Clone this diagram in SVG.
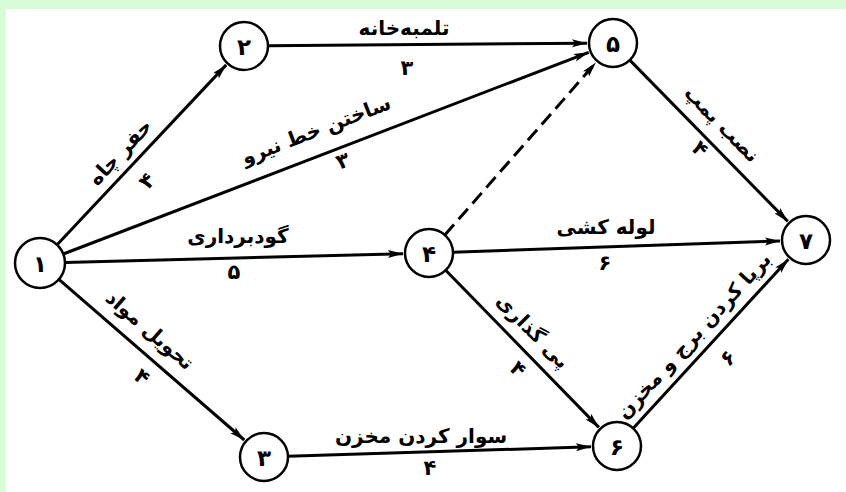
<svg xmlns="http://www.w3.org/2000/svg" width="846" height="492" viewBox="0 0 846 492">
<style>
.node circle{fill:#fff;stroke:#000;stroke-width:2.5}
.node text{font-family:"DejaVu Sans",sans-serif;font-size:23px;font-weight:bold;text-anchor:middle;dominant-baseline:central;fill:#000}
.edge{stroke:#000;stroke-width:3;fill:none;marker-end:url(#arr)}
.dash{stroke-dasharray:14 7}
.lbl{font-family:"DejaVu Sans",sans-serif;font-size:20px;font-weight:bold;text-anchor:middle;dominant-baseline:central;fill:#000}
.num{font-family:"DejaVu Sans",sans-serif;font-size:21px;font-weight:bold;text-anchor:middle;dominant-baseline:central;fill:#000}
</style>
<defs>
<marker id="arr" markerUnits="userSpaceOnUse" markerWidth="16" markerHeight="10" refX="15" refY="4" orient="auto">
<path d="M0,0 L15,4 L0,8 L3,4 z" fill="#000"/>
</marker>
</defs>
<rect x="0" y="0" width="846" height="492" fill="#d8fcd8"/>
<rect x="6" y="9" width="840" height="483" fill="#fff"/>
<g id="connectors">
<line class="edge" x1="57.1" y1="244.8" x2="226.2" y2="64.9"/>
<line class="edge" x1="63.3" y1="254.0" x2="588.7" y2="52.3"/>
<line class="edge" x1="65" y1="262.4" x2="403" y2="253.7"/>
<line class="edge" x1="58.9" y1="279.4" x2="244.3" y2="440.0"/>
<line class="edge" x1="268" y1="45.8" x2="587" y2="43.2"/>
<line class="edge dash" x1="444.8" y1="235.0" x2="595.9" y2="62.6"/>
<line class="edge" x1="629.8" y1="60.1" x2="787.8" y2="221.4"/>
<line class="edge" x1="453" y1="252.2" x2="780" y2="240.9"/>
<line class="edge" x1="445.7" y1="270.2" x2="598.9" y2="427.4"/>
<line class="edge" x1="288" y1="456.3" x2="591" y2="446.8"/>
<line class="edge" x1="633.2" y1="428.3" x2="788.4" y2="259.2"/>
<text class="lbl" x="120" y="152" transform="rotate(-46.8 120 152)">حفر چاه</text>
<text class="num" x="147" y="181" transform="rotate(-46.8 147 181)">۴</text>
<text class="lbl" x="316" y="130" transform="rotate(-21 316 130)">ساختن خط نیرو</text>
<text class="num" x="343" y="161" transform="rotate(-21 343 161)">۳</text>
<text class="lbl" x="238" y="236">گودبرداری</text>
<text class="num" x="234" y="272">۵</text>
<text class="lbl" x="150" y="330" transform="rotate(40.9 150 330)">تحویل مواد</text>
<text class="num" x="142" y="377" transform="rotate(40.9 142 377)">۴</text>
<text class="lbl" x="404" y="28">تلمبه‌خانه</text>
<text class="num" x="407" y="68">۳</text>
<text class="lbl" x="722" y="124" transform="rotate(45.6 722 124)">نصب پمپ</text>
<text class="num" x="700" y="149" transform="rotate(45.6 700 149)">۴</text>
<text class="lbl" x="606" y="227">لوله کشی</text>
<text class="num" x="605" y="263">۶</text>
<text class="lbl" x="533" y="331" transform="rotate(45.8 533 331)">پی گذاری</text>
<text class="num" x="518" y="369" transform="rotate(45.8 518 369)">۴</text>
<text class="lbl" x="421" y="436">سوار کردن مخزن</text>
<text class="num" x="430" y="468">۴</text>
<text class="lbl" x="693.5" y="335.5" transform="rotate(-47.5 693.5 335.5)">برپا کردن برج و مخزن</text>
<text class="num" x="728" y="358" transform="rotate(-47.5 728 358)">۶</text>
</g>
<g id="node1" class="node"><circle cx="40" cy="263" r="25"/><text x="40" y="264">۱</text></g>
<g id="node2" class="node"><circle cx="244" cy="46" r="24"/><text x="244" y="47">۲</text></g>
<g id="node3" class="node"><circle cx="264" cy="457" r="24"/><text x="264" y="458">۳</text></g>
<g id="node4" class="node"><circle cx="429" cy="253" r="24"/><text x="429" y="254">۴</text></g>
<g id="node5" class="node"><circle cx="613" cy="43" r="24"/><text x="613" y="44">۵</text></g>
<g id="node6" class="node"><circle cx="617" cy="446" r="24"/><text x="617" y="447">۶</text></g>
<g id="node7" class="node"><circle cx="806" cy="240" r="24"/><text x="806" y="241">۷</text></g>
</svg>
